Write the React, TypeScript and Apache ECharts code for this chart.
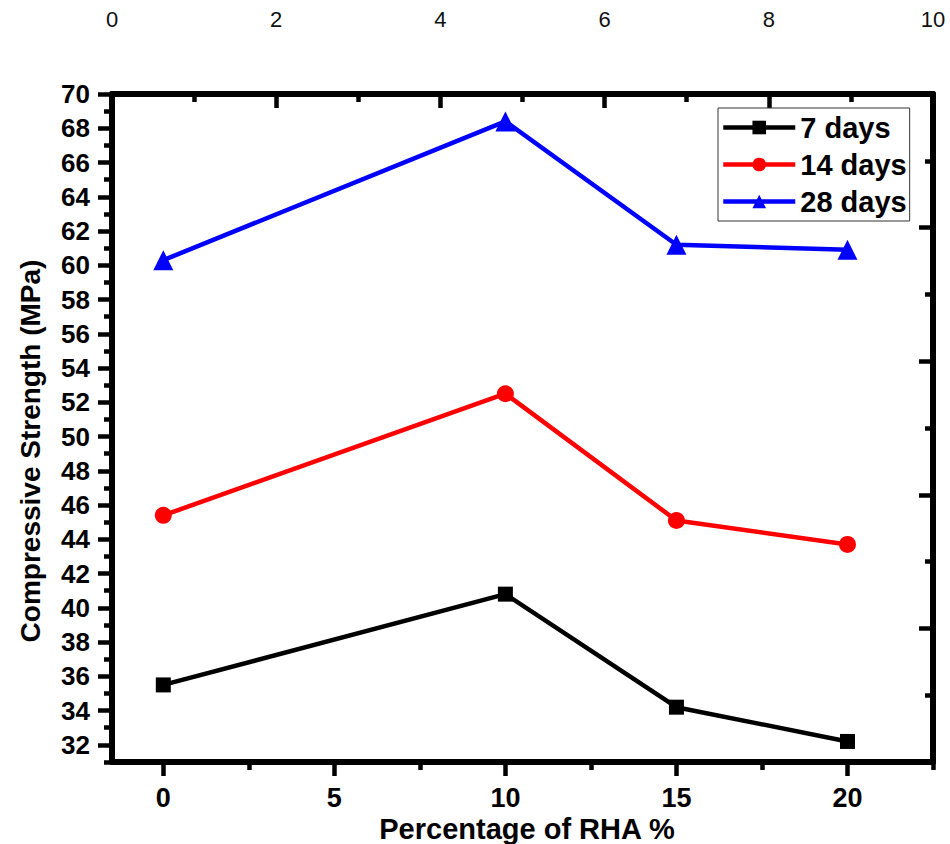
import React, { useEffect, useRef } from "react";
import * as echarts from "echarts";

const xValues = [0, 10, 15, 20];
const days7 = [35.5, 40.8, 34.2, 32.2];
const days14 = [45.4, 52.5, 45.1, 43.7];
const days28 = [60.3, 68.4, 61.2, 60.9];
const seriesNames = ["7 days", "14 days", "28 days"];
const seriesColors = ["#000000", "#ff0000", "#0000ff"];
const seriesSymbols = ["rect", "circle", "triangle"];

const bottomMajor = [0, 5, 10, 15, 20];
const bottomMinor = [2.5, 7.5, 12.5, 17.5, 22.5];
const leftMajor = [32, 34, 36, 38, 40, 42, 44, 46, 48, 50, 52, 54, 56, 58, 60, 62, 64, 66, 68, 70];
const leftMinor = [31, 33, 35, 37, 39, 41, 43, 45, 47, 49, 51, 53, 55, 57, 59, 61, 63, 65, 67, 69];
const sideMajor = [0, 2, 4, 6, 8, 10];
const sideMinor = [1, 3, 5, 7, 9];

const xTitle = "Percentage of RHA %";
const yTitle = "Compressive Strength (MPa)";

const FONT = 'Arial, "Liberation Sans", sans-serif';

export default function App() {
  const ref = useRef<HTMLDivElement>(null);

  useEffect(() => {
    if (!ref.current) return;
    const chart = echarts.init(ref.current, undefined, { renderer: "svg" });
    const mkLine = () => ({ show: true, onZero: false, lineStyle: { color: "#000", width: 6 } });
    const noLine = () => ({ show: false, onZero: false });
    const mkTick = (len: number, vals: number[], inside = false) => ({
      show: true,
      inside,
      length: len,
      customValues: vals,
      lineStyle: { color: "#000", width: 4.5 },
    });

    const seriesData = [days7, days14, days28];
    const option: any = {
      animation: false,
      backgroundColor: "#ffffff",
      grid: { left: 112, top: 94, right: 17, bottom: 82, containLabel: false },
      legend: {
        orient: "vertical",
        left: 718,
        top: 108,
        itemWidth: 72,
        itemHeight: 17,
        itemGap: 8,
        padding: [5, 3, 5, 3],
        borderColor: "#333",
        borderWidth: 1,
        lineStyle: { width: 4.5 },
        textStyle: { fontSize: 29, fontWeight: "bold", color: "#000", fontFamily: FONT },
        data: seriesNames,
      },
      xAxis: [
        {
          type: "value",
          position: "bottom",
          min: -1.5,
          max: 22.5,
          axisLine: mkLine(),
          splitLine: { show: false },
          axisTick: mkTick(14, bottomMajor),
          axisLabel: {
            customValues: bottomMajor,
            fontSize: 27,
            fontWeight: "bold",
            color: "#000",
            fontFamily: FONT,
            margin: 22,
          },
        },
        {
          type: "value",
          position: "bottom",
          min: -1.5,
          max: 22.5,
          axisLine: noLine(),
          splitLine: { show: false },
          axisTick: mkTick(8, bottomMinor),
          axisLabel: { show: false },
        },
        {
          type: "value",
          position: "top",
          min: 0,
          max: 10,
          interval: 2,
          axisLine: mkLine(),
          splitLine: { show: false },
          axisTick: mkTick(14, sideMajor, true),
          axisLabel: {
            customValues: sideMajor,
            fontSize: 22,
            color: "#111",
            fontFamily: FONT,
            margin: 64,
          },
        },
        {
          type: "value",
          position: "top",
          min: 0,
          max: 10,
          axisLine: noLine(),
          splitLine: { show: false },
          axisTick: mkTick(8, sideMinor, true),
          axisLabel: { show: false },
        },
      ],
      yAxis: [
        {
          type: "value",
          position: "left",
          min: 31,
          max: 70,
          axisLine: mkLine(),
          splitLine: { show: false },
          axisTick: mkTick(14, leftMajor),
          axisLabel: {
            customValues: leftMajor,
            fontSize: 26,
            fontWeight: "bold",
            color: "#000",
            fontFamily: FONT,
            margin: 22,
          },
        },
        {
          type: "value",
          position: "left",
          min: 31,
          max: 70,
          axisLine: noLine(),
          splitLine: { show: false },
          axisTick: mkTick(8, leftMinor),
          axisLabel: { show: false },
        },
        {
          type: "value",
          position: "right",
          min: 0,
          max: 10,
          axisLine: mkLine(),
          splitLine: { show: false },
          axisTick: mkTick(14, sideMajor, true),
          axisLabel: { show: false },
        },
        {
          type: "value",
          position: "right",
          min: 0,
          max: 10,
          axisLine: noLine(),
          splitLine: { show: false },
          axisTick: mkTick(8, sideMinor, true),
          axisLabel: { show: false },
        },
      ],
      series: seriesNames.map((name, i) => ({
        name,
        type: "line",
        xAxisIndex: 0,
        yAxisIndex: 0,
        data: xValues.map((x, j) => [x, seriesData[i][j]]),
        symbol: seriesSymbols[i],
        symbolSize: i === 2 ? 20 : i === 1 ? 17 : 15,
        showAllSymbol: true,
        lineStyle: { color: seriesColors[i], width: 4.5 },
        itemStyle: { color: seriesColors[i] },
        z: 3 + i,
      })),
      graphic: [
        {
          type: "text",
          x: 30,
          y: 451,
          rotation: Math.PI / 2,
          style: {
            text: yTitle,
            font: `bold 28px ${FONT}`,
            fill: "#000",
            textAlign: "center",
            textVerticalAlign: "middle",
          },
        },
        {
          type: "text",
          x: 527,
          y: 829,
          style: {
            text: xTitle,
            font: `bold 29px ${FONT}`,
            fill: "#000",
            textAlign: "center",
            textVerticalAlign: "middle",
          },
        },
      ],
    };
    chart.setOption(option);
    return () => chart.dispose();
  }, []);

  return (
    <div
      ref={ref}
      style={{ position: "absolute", left: 0, top: 0, width: 950, height: 844, background: "#fff" }}
    />
  );
}
